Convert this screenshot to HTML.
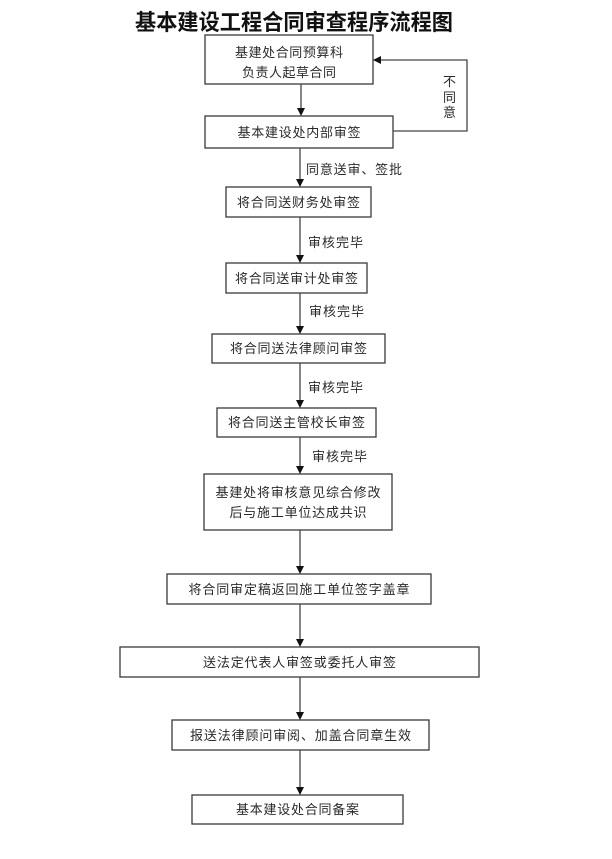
<!DOCTYPE html>
<html>
<head>
<meta charset="utf-8">
<style>
html,body{margin:0;padding:0;background:#fff;}
svg{display:block;}
text{font-family:"Liberation Sans","Noto Sans CJK SC",sans-serif;}
.t{font-size:13px;fill:#2a2a2a;text-anchor:middle;}
.l{font-size:13px;fill:#2a2a2a;}
.b{fill:#fff;stroke:#3a3a3a;stroke-width:1.3;}
.c{stroke:#444;stroke-width:1.3;fill:none;}
.a{fill:#111;}
</style>
</head>
<body>
<svg width="612" height="859" viewBox="0 0 612 859" xmlns="http://www.w3.org/2000/svg">
<text x="294" y="30" style="font-size:22px;font-weight:bold;fill:#111;text-anchor:middle;" textLength="318" lengthAdjust="spacingAndGlyphs">基本建设工程合同审查程序流程图</text>

<!-- boxes -->
<rect class="b" x="205" y="35" width="168" height="49"/>
<text class="t" x="289" y="57" textLength="108">基建处合同预算科</text>
<text class="t" x="289" y="77" textLength="94">负责人起草合同</text>

<rect class="b" x="205" y="116" width="188" height="32"/>
<text class="t" x="299" y="137" textLength="123">基本建设处内部审签</text>

<rect class="b" x="226" y="187" width="145" height="30"/>
<text class="t" x="298.5" y="207" textLength="123">将合同送财务处审签</text>

<rect class="b" x="226" y="263" width="141" height="30"/>
<text class="t" x="296.5" y="283" textLength="123">将合同送审计处审签</text>

<rect class="b" x="212" y="334" width="173" height="29"/>
<text class="t" x="298.5" y="353" textLength="137">将合同送法律顾问审签</text>

<rect class="b" x="217" y="408" width="159" height="29"/>
<text class="t" x="296.5" y="427" textLength="137">将合同送主管校长审签</text>

<rect class="b" x="204" y="474" width="188" height="56"/>
<text class="t" x="298" y="497" textLength="165">基建处将审核意见综合修改</text>
<text class="t" x="298" y="517" textLength="137">后与施工单位达成共识</text>

<rect class="b" x="167" y="574" width="264" height="30"/>
<text class="t" x="299" y="594" textLength="221">将合同审定稿返回施工单位签字盖章</text>

<rect class="b" x="120" y="647" width="359" height="30"/>
<text class="t" x="299.5" y="667" textLength="193">送法定代表人审签或委托人审签</text>

<rect class="b" x="172" y="720" width="257" height="30"/>
<text class="t" x="300.5" y="740" textLength="221">报送法律顾问审阅、加盖合同章生效</text>

<rect class="b" x="192" y="795" width="211" height="29"/>
<text class="t" x="297.5" y="814" textLength="123">基本建设处合同备案</text>

<!-- connectors -->
<g>
<line class="c" x1="301" y1="84" x2="301" y2="109"/><polygon class="a" points="297,108 305,108 301,116"/>
<line class="c" x1="300" y1="148" x2="300" y2="180"/><polygon class="a" points="296,179 304,179 300,187"/>
<line class="c" x1="300" y1="217" x2="300" y2="256"/><polygon class="a" points="296,255 304,255 300,263"/>
<line class="c" x1="300" y1="293" x2="300" y2="327"/><polygon class="a" points="296,326 304,326 300,334"/>
<line class="c" x1="300" y1="363" x2="300" y2="401"/><polygon class="a" points="296,400 304,400 300,408"/>
<line class="c" x1="300" y1="437" x2="300" y2="467"/><polygon class="a" points="296,466 304,466 300,474"/>
<line class="c" x1="300" y1="530" x2="300" y2="567"/><polygon class="a" points="296,566 304,566 300,574"/>
<line class="c" x1="300" y1="604" x2="300" y2="640"/><polygon class="a" points="296,639 304,639 300,647"/>
<line class="c" x1="300" y1="677" x2="300" y2="713"/><polygon class="a" points="296,712 304,712 300,720"/>
<line class="c" x1="300" y1="750" x2="300" y2="788"/><polygon class="a" points="296,787 304,787 300,795"/>
</g>

<!-- feedback loop -->
<polyline class="c" points="393,131 467,131 467,60 380,60"/>
<polygon class="a" points="373,60 381,56 381,64"/>
<text class="l" x="443" y="86">不</text>
<text class="l" x="443" y="102">同</text>
<text class="l" x="443" y="117">意</text>

<!-- labels -->
<text class="l" x="306" y="174" textLength="96">同意送审、签批</text>
<text class="l" x="308" y="247" textLength="55">审核完毕</text>
<text class="l" x="309" y="316" textLength="55">审核完毕</text>
<text class="l" x="308" y="392" textLength="55">审核完毕</text>
<text class="l" x="312" y="461" textLength="55">审核完毕</text>
</svg>
</body>
</html>
